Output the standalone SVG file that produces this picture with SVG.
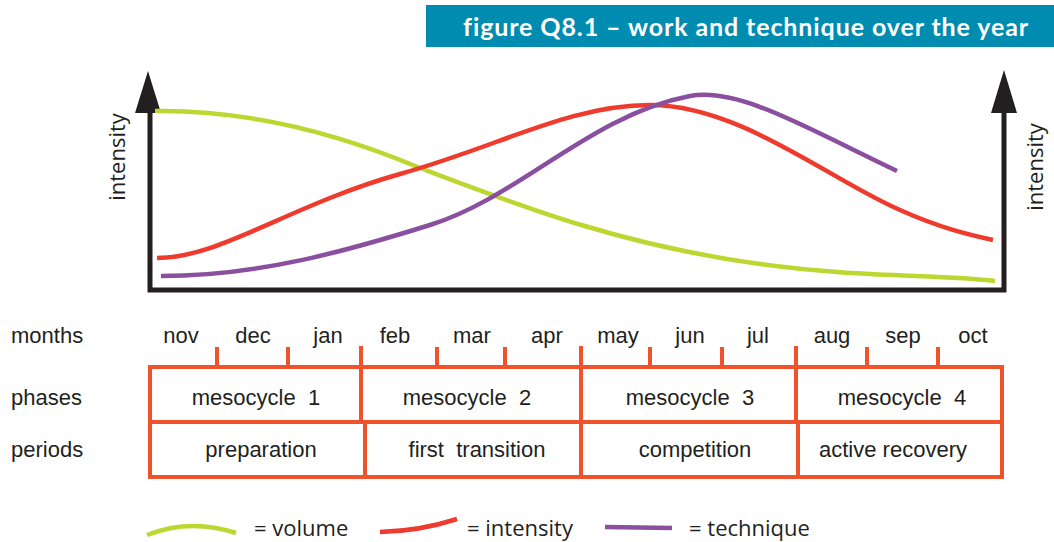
<svg xmlns="http://www.w3.org/2000/svg" width="1054" height="542" viewBox="0 0 1054 542">
<defs>
<style>
.axis{stroke:#231F20;stroke-width:5;fill:none}
.head{fill:#231F20}
.curve{fill:none;stroke-width:4.5;stroke-linecap:butt}
.vol{stroke:#BDD630}
.int{stroke:#EE3B2E}
.tec{stroke:#8A4F9E}
.tbl{stroke:#F0522B;stroke-width:4;fill:none}
.lbl{font-family:"Liberation Sans",Arial,sans-serif;font-size:22px;fill:#231F20;white-space:pre}
.mid{text-anchor:middle}
.hum{font-family:"Open Sans","Noto Sans",sans-serif;font-size:22px;fill:#231F20}
.title{font-family:Lato,"Open Sans",sans-serif;font-weight:bold;font-size:25px;letter-spacing:0.9px;fill:#FFFFFF;text-anchor:middle}
</style>
</defs>
<g id="title">
<rect x="426" y="5" width="628" height="42" fill="#008BB0"/>
<text class="title" x="746" y="36">figure Q8.1 – work and technique over the year</text>
</g>
<g id="axes">
<path class="axis" d="M150,110 V290 H1004 V110"/>
<polygon class="head" points="148,71 161,113 135,113"/>
<polygon class="head" points="1004,70 1017,113 991,113"/>
<text class="hum mid" transform="translate(125,157) rotate(-90)">intensity</text>
<text class="hum mid" transform="translate(1043,167) rotate(-90)">intensity</text>
</g>
<g id="curves">
<path class="curve vol" d="M155,111 C240,110 330,130 420,168 C520,206 620,245 760,264 C860,278 940,274 995,281"/>
<path class="curve int" d="M157,258 C220,258 290,205 400,174 C500,146 570,105 650,105 C740,105 830,180 900,210 C940,228 970,235 993,240"/>
<path class="curve tec" d="M161,276 C260,276 350,250 430,225 C520,197 590,115 690,96 C740,87 810,130 897,171"/>
</g>
<g id="row-labels">
<text class="lbl" x="11" y="343">months</text>
<text class="lbl" x="11" y="405">phases</text>
<text class="lbl" x="11" y="457">periods</text>
</g>
<g id="months">
<text class="lbl mid" x="181" y="343">nov</text>
<text class="lbl mid" x="253" y="343">dec</text>
<text class="lbl mid" x="328" y="343">jan</text>
<text class="lbl mid" x="395" y="343">feb</text>
<text class="lbl mid" x="472" y="343">mar</text>
<text class="lbl mid" x="547" y="343">apr</text>
<text class="lbl mid" x="618" y="343">may</text>
<text class="lbl mid" x="690" y="343">jun</text>
<text class="lbl mid" x="758" y="343">jul</text>
<text class="lbl mid" x="832" y="343">aug</text>
<text class="lbl mid" x="903" y="343">sep</text>
<text class="lbl mid" x="973" y="343">oct</text>
</g>
<g id="table">
<rect class="tbl" x="150" y="367" width="852" height="110"/>
<path class="tbl" d="M150,422 H1002 M361,346 V422 M365,422 V477 M581,346 V477 M796,346 V422 M798,422 V477 M217,347 V367 M288,347 V367 M437,347 V367 M505,347 V367 M650,347 V367 M722,347 V367 M867,347 V367 M938,347 V367"/>
</g>
<g id="phases">
<text class="lbl mid" x="256" y="405">mesocycle  1</text>
<text class="lbl mid" x="467" y="405">mesocycle  2</text>
<text class="lbl mid" x="690" y="405">mesocycle  3</text>
<text class="lbl mid" x="902" y="405">mesocycle  4</text>
</g>
<g id="periods">
<text class="lbl mid" x="261" y="457">preparation</text>
<text class="lbl mid" x="477" y="457">first  transition</text>
<text class="lbl mid" x="695" y="457">competition</text>
<text class="lbl mid" x="893" y="457">active recovery</text>
</g>
<g id="legend">
<path class="curve vol" d="M147,535 Q190,518 236,533"/>
<path class="curve int" d="M380,532 Q420,531 457,519"/>
<path class="curve tec" d="M605,527 L672,528"/>
<text class="hum" x="254" y="536">= volume</text>
<text class="hum" x="467" y="536">= intensity</text>
<text class="hum" x="689" y="536">= technique</text>
</g>
</svg>
